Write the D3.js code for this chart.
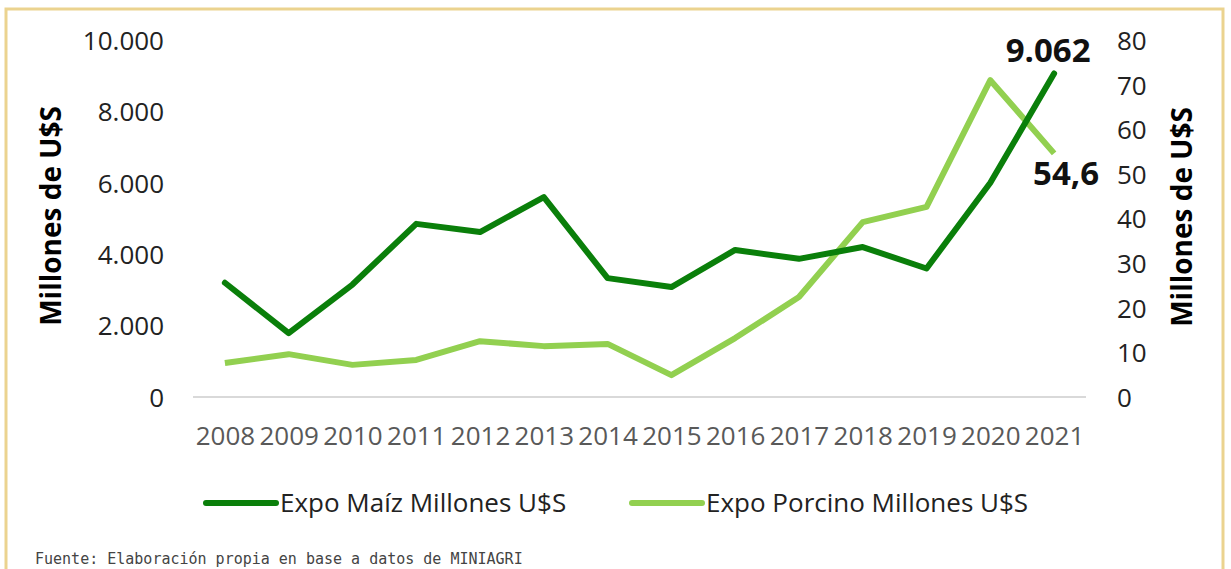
<!DOCTYPE html>
<html>
<head>
<meta charset="utf-8">
<script src="https://cdn.jsdelivr.net/npm/d3@7"></script>
<style>
  html, body { margin: 0; padding: 0; background: #fff; }
  svg { display: block; }
</style>
</head>
<body>
<svg id="chart" width="1231" height="569"></svg>
<script>
// data
var years = ["2008","2009","2010","2011","2012","2013","2014","2015","2016","2017","2018","2019","2020","2021"];
var maiz = [3200, 1790, 3150, 4850, 4620, 5600, 3330, 3080, 4120, 3870, 4200, 3600, 6000, 9062];
var porcino = [7.6, 9.6, 7.2, 8.3, 12.5, 11.4, 11.9, 4.9, 13.2, 22.4, 39.2, 42.6, 71.0, 54.6];
var leftTicks = [0, 2000, 4000, 6000, 8000, 10000];
var rightTicks = [0, 10, 20, 30, 40, 50, 60, 70, 80];
var seriesNames = ["Expo Maíz Millones U$S", "Expo Porcino Millones U$S"];
var axisTitle = "Millones de U$S";
var source = "Fuente: Elaboración propia en base a datos de MINIAGRI";

var es = d3.formatLocale({decimal: ",", thousands: ".", grouping: [3], currency: ["$", ""]});
var fmtThousands = es.format(","),
    fmtOne = es.format(",.1f");

var svg = d3.select("#chart"),
    margin = {top: 40, right: 145, bottom: 172, left: 193},
    W = +svg.attr("width"),
    H = +svg.attr("height");

var colors = ["#0a7f0a", "#92d050"];

// frame
svg.append("path")
    .attr("d", "M6,569 V9 H1223 V569")
    .attr("fill", "none")
    .attr("stroke", "#ebd38f")
    .attr("stroke-width", 3);

var x = d3.scalePoint()
    .domain(years)
    .range([margin.left, W - margin.right])
    .padding(0.5);

var yL = d3.scaleLinear().domain([0, 10000]).range([H - margin.bottom, margin.top]);
var yR = d3.scaleLinear().domain([0, 80]).range([H - margin.bottom, margin.top]);

// baseline
svg.append("line")
    .attr("x1", margin.left).attr("x2", W - margin.right)
    .attr("y1", yL(0)).attr("y2", yL(0))
    .attr("stroke", "#d9d9d9")
    .attr("stroke-width", 2);

var leftAxis = svg.append("g")
    .attr("transform", "translate(" + (margin.left - 26) + ",0)")
    .call(d3.axisLeft(yL).tickValues(leftTicks).tickFormat(fmtThousands).tickSize(0));
leftAxis.select(".domain").remove();
leftAxis.selectAll("text")
    .attr("dy", "0.36em")
    .style("font-family", "'Open Sans', sans-serif")
    .style("font-size", "26px")
    .style("fill", "#222");

var rightAxis = svg.append("g")
    .attr("transform", "translate(" + (W - margin.right + 31) + ",0)")
    .call(d3.axisRight(yR).tickValues(rightTicks).tickSize(0));
rightAxis.select(".domain").remove();
rightAxis.selectAll("text")
    .attr("dy", "0.36em")
    .attr("x", 0)
    .style("font-family", "'Open Sans', sans-serif")
    .style("font-size", "26px")
    .style("fill", "#222");

var xAxis = svg.append("g")
    .attr("transform", "translate(0," + yL(0) + ")")
    .call(d3.axisBottom(x).tickSize(0));
xAxis.select(".domain").remove();
xAxis.selectAll("text")
    .attr("y", 48)
    .attr("dy", "0")
    .style("font-family", "'Open Sans', sans-serif")
    .style("font-size", "26px")
    .style("fill", "#595959");

// axis titles
svg.append("text")
    .attr("transform", "translate(61,216) rotate(-90)")
    .attr("text-anchor", "middle")
    .style("font-family", "'Open Sans', sans-serif")
    .style("font-weight", "bold")
    .style("font-size", "28px")
    .text(axisTitle);

svg.append("text")
    .attr("transform", "translate(1192,217) rotate(-90)")
    .attr("text-anchor", "middle")
    .style("font-family", "'Open Sans', sans-serif")
    .style("font-weight", "bold")
    .style("font-size", "28px")
    .text(axisTitle);

// lines
var lineL = d3.line().x((d, i) => x(years[i])).y(d => yL(d));
var lineR = d3.line().x((d, i) => x(years[i])).y(d => yR(d));

svg.append("path")
    .attr("d", lineR(porcino))
    .attr("fill", "none")
    .attr("stroke", colors[1])
    .attr("stroke-width", 6)
    .attr("stroke-linejoin", "round");

svg.append("path")
    .attr("d", lineL(maiz))
    .attr("fill", "none")
    .attr("stroke", colors[0])
    .attr("stroke-width", 6)
    .attr("stroke-linejoin", "round")
    .attr("stroke-linecap", "round");

// end labels
var last = years.length - 1;
svg.append("text")
    .attr("x", x(years[last]) - 6)
    .attr("y", yL(maiz[last]) - 11)
    .attr("text-anchor", "middle")
    .style("font-family", "'Open Sans', sans-serif")
    .style("font-weight", "bold")
    .style("font-size", "33px")
    .style("fill", "#111")
    .text(fmtThousands(maiz[last]));

svg.append("text")
    .attr("x", x(years[last]) + 12)
    .attr("y", yR(porcino[last]) + 32)
    .attr("text-anchor", "middle")
    .style("font-family", "'Open Sans', sans-serif")
    .style("font-weight", "bold")
    .style("font-size", "33px")
    .style("fill", "#111")
    .text(fmtOne(porcino[last]));

// legend
var legendX = [206, 632];
var legend = svg.selectAll(".legend")
    .data(seriesNames)
    .enter().append("g")
    .attr("class", "legend")
    .attr("transform", (d, i) => "translate(" + legendX[i] + ",503)");

legend.append("line")
    .attr("x1", 0).attr("x2", 70)
    .attr("stroke", (d, i) => colors[i])
    .attr("stroke-width", 6)
    .attr("stroke-linecap", "round");

legend.append("text")
    .attr("x", 74)
    .attr("dy", "0.35em")
    .style("font-family", "'Open Sans', sans-serif")
    .style("font-size", "26px")
    .style("fill", "#222")
    .text(d => d);

// source note
svg.append("text")
    .attr("x", 35)
    .attr("y", 564)
    .style("font-family", "'DejaVu Sans Mono', monospace")
    .style("font-size", "15px")
    .style("fill", "#444")
    .text(source);
</script>
</body>
</html>
